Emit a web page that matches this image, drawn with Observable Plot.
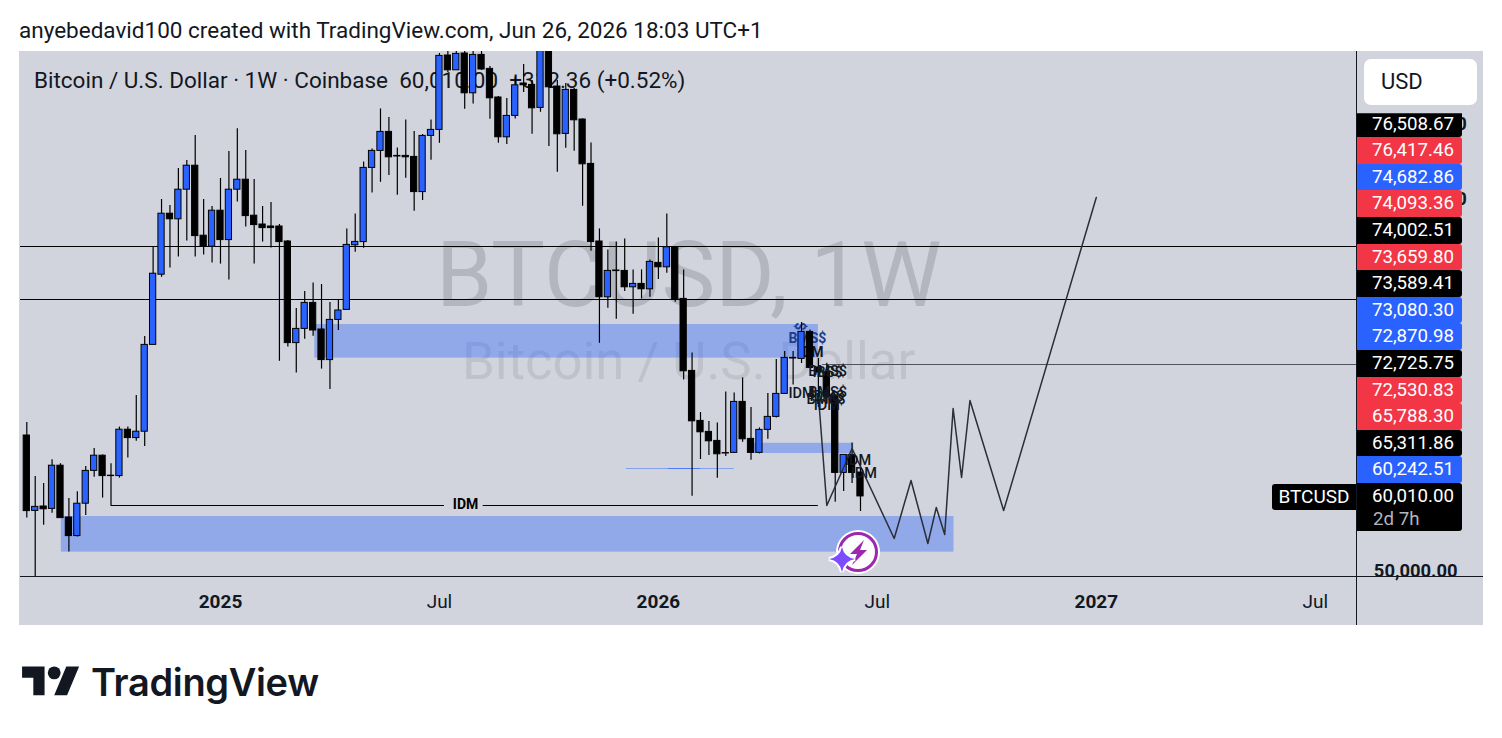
<!DOCTYPE html>
<html>
<head>
<meta charset="utf-8">
<script src="https://cdn.jsdelivr.net/npm/d3@7"></script>
<script src="https://cdn.jsdelivr.net/npm/@observablehq/plot@0.6"></script>
<style>
  html,body{margin:0;padding:0;background:#fff;width:1502px;height:738px;overflow:hidden;font-family:Roboto,sans-serif;}
  #head{position:absolute;left:19px;top:17px;font-size:22.5px;line-height:26px;color:#131722;white-space:nowrap;}
  #chart{position:absolute;left:19px;top:51px;}
  #usd{position:absolute;left:1364px;top:59px;width:113px;height:46px;background:#fff;border-radius:7px;font-size:22px;line-height:46px;color:#131722;text-indent:17px;}
  #flags{position:absolute;left:1357px;top:110.7px;width:105px;display:flex;flex-direction:column;}
  .flag{height:26.6px;line-height:26.6px;font-size:18.7px;color:#fff;text-align:right;padding-right:8px;border-radius:0 3px 3px 0;box-sizing:border-box;}
  .flag:first-child{clip-path:inset(2.5px 0 0 0);}
  .flag.last{height:47.5px;line-height:24px;padding-top:1px;}
  .flag span{display:block;color:#b2b5be;text-align:left;padding-left:16px;line-height:22px;}
  #sym{position:absolute;left:1272px;top:483.5px;width:84px;height:26.6px;line-height:26.6px;background:#000;color:#fff;font-size:19px;text-align:center;border-radius:3px 0 0 3px;}
  #icon{position:absolute;left:827px;top:528px;}
  #logo{position:absolute;left:22px;top:660px;}
  #brand{position:absolute;left:91px;top:657px;font-family:Inter,Roboto,sans-serif;font-size:38px;font-weight:600;line-height:50px;letter-spacing:-0.35px;color:#131722;white-space:nowrap;}
</style>
</head>
<body>
<div id="head">anyebedavid100 created with TradingView.com, Jun 26, 2026 18:03 UTC+1</div>
<div id="chart"></div>
<div id="usd">USD</div>
<div id="flags"></div>
<div id="sym">BTCUSD</div>
<svg id="icon" width="60" height="50" viewBox="0 0 60 50">
  <circle cx="31" cy="24" r="22" fill="#fff"/>
  <circle cx="31" cy="24" r="18.5" fill="#fff" stroke="#9c27b0" stroke-width="3"/>
  <path d="M37 12 L23 26 L30 26 L25 37 L40 22 L33 22 Z" fill="#9c27b0"/>
  <path d="M15 19 Q17 29 28 31 Q17 33 15 44 Q13 33 2 31 Q13 29 15 19 Z" fill="#7c4dff" stroke="#fff" stroke-width="4" paint-order="stroke"/>
</svg>
<svg id="logo" width="58" height="45" viewBox="0 0 36 28"><path fill="#131722" d="M14 22H7V11H0V4h14v18zM28 22h-8l7.5-18h8L28 22z"/><circle fill="#131722" cx="20" cy="8" r="4"/></svg>
<div id="brand">TradingView</div>
<script>
// Weekly candles, first bar = week of 2024-07-29
const firstWeek = Date.UTC(2024, 6, 29);
const open  = [67625,58200,58750,58450,63850,57375,55050,59100,63200,65100,62600,62550,68350,67300,68100,78950,87725,95350,94650,98350,101350,92600,91225,95725,92050,98350,99600,95100,94000,93750,93750,91875,79175,80950,84200,80875,77050,82075,83325,91400,91800,101075,103200,105575,102575,102575,102450,98050,105075,105825,115125,113275,115375,110400,115200,113450,109875,104900,107575,111625,111450,108575,118000,111250,105325,110825,107125,101575,91875,84900,88250,88200,86150,86575,85900,89200,88650,91150,84700,75700,69450,68075,66950,65425,65450,71825,67200,65450,68325,69950,72825,77325,77200,80575,76125,75525,72500,62950,65200,63000];
const high  = [69250,62500,61625,64600,64100,59750,60600,63750,66000,65200,64100,68675,68675,72625,80000,91150,97125,96375,101000,102000,105125,97125,96250,99750,103125,105975,103250,99625,96250,96750,94000,92000,83500,85625,86700,86500,84250,84575,93450,95325,101825,103450,108450,107375,103575,107075,105625,105250,107075,115375,116500,117000,117000,116500,116000,113750,110000,109750,112400,114000,112000,120000,120000,112000,111625,111000,107200,104200,93450,90825,91825,92200,88325,88325,89575,92325,95325,91250,88325,77950,70500,69375,69200,73075,72950,74825,71125,68575,72875,77125,78125,78125,81750,80825,77250,76650,72625,65250,66700,64500];
const low   = [57300,49900,56400,57900,57300,53050,54925,57625,62400,59800,58875,62300,64800,66900,66250,78950,87400,88550,89925,91925,89925,90175,89175,89050,87050,96800,93675,89050,91800,91050,76900,78675,75425,79650,80025,75925,73375,80750,83325,90525,91025,97925,99275,100125,97650,99775,95650,97000,102025,104150,113000,113250,108400,109075,113250,107150,104150,104000,107200,110500,105275,108025,103750,100525,103525,103150,96275,90650,79150,83525,82150,85625,82775,84700,84900,87125,87900,84275,74575,60025,64625,65125,62275,65000,65425,66775,64525,65325,67150,69825,72750,73950,76625,76075,71125,71625,59275,60625,61625,58125];
const close = [58175,58700,58400,63850,57300,55050,59100,63200,65100,62550,62550,68350,67300,68100,78950,87850,95350,94650,98350,101350,92550,91225,95725,92050,98350,99600,95050,93925,93550,93550,91800,79175,80950,84200,80750,77050,82075,83250,91450,91825,101075,103200,105575,102400,102500,102400,98050,105075,105825,115075,113275,115325,110400,115200,113375,109775,104900,107575,111400,111400,108525,118000,111150,105275,110825,107025,101525,91800,84900,88200,88175,86150,86575,85900,89325,88650,91150,84575,75650,69400,68025,66900,65275,65375,71825,67150,65450,68325,69950,72825,77325,77250,80575,76075,75500,72400,62950,65200,62950,60010];

// Drawn zones [first week, last week, lower price, upper price]
const zoneStart = [4.1, 34.2, 86.2];
const zoneEnd   = [110.1, 94, 98.2];
const zoneLow   = [53050, 77300, 65375];
const zoneHigh  = [57500, 81500, 66650];

// Horizontal levels and the projected path
const levels = [91250, 84625];
const grayLevel = 76500;
const idmLevel = 58875;
const thinLevel = 63500;
const pathWeek  = [94, 95, 98, 103, 105, 107, 108, 109, 110, 111, 112, 116, 127];
const pathPrice = [72625, 58875, 66000, 54750, 62000, 54125, 58625, 55250, 71000, 62375, 72000, 58250, 97375];

// Chart labels
const notes = ["BMS$", "IDM", "BMS$", "IBS$", "IDM", "BMS$", "IDM$", "BMS$", "IDM", "IDM", "IDM"];
const noteWeek  = [92.7, 93.1, 95.1, 95.1, 92, 95.1, 95, 94.9, 95, 98.7, 99.4];
const notePrice = [79750, 78000, 75625, 75500, 72875, 73000, 72500, 72100, 71400, 64500, 62875];
const noteColor = ["#1b3f8f", "#131722", "#131722", "#131722", "#131722", "#131722", "#131722", "#131722", "#131722", "#131722", "#131722"];

// Price-scale flags
const flagText = ["76,508.67","76,417.46","74,682.86","74,093.36","74,002.51","73,659.80","73,589.41","73,080.30","72,870.98","72,725.75","72,530.83","65,788.30","65,311.86","60,242.51","60,010.00"];
const flagColor = ["#000","#f23645","#2962ff","#f23645","#000","#f23645","#000","#2962ff","#2962ff","#000","#f23645","#f23645","#000","#2962ff","#000"];
const countdown = "2d 7h";
const priceTicks = ["110,000.00", "100,000.00", "50,000.00"];
const priceTickAt = [105800, 96500, 49950];
const priceTickWeek = [171, 171, 169.9];
const tickYears = ["2025-01-06", "2026-01-05", "2027-01-04"];
const tickMonths = ["2025-07-07", "2026-07-06", "2027-07-05"];

const legend = "Bitcoin / U.S. Dollar · 1W · Coinbase\u00a0\u00a060,010.00\u00a0\u00a0+312.36 (+0.52%)";
const watermark = "BTCUSD, 1W";
const watermarkSub = "Bitcoin / U.S. Dollar";

const BLUE = "#2962ff", INK = "#131722";
const weekDate = w => new Date(firstWeek + w * 7 * 864e5);
const candles = open.map((o, i) => ({date: weekDate(i), o, h: high[i], l: low[i], c: close[i]}));
const zones = zoneStart.map((s, i) => ({a: weekDate(s), b: weekDate(zoneEnd[i]), lo: zoneLow[i], hi: zoneHigh[i]}));
const path = pathWeek.map((w, i) => ({d: weekDate(w), p: pathPrice[i]}));
const noteRows = notes.map((t, i) => ({t, d: weekDate(noteWeek[i]), p: notePrice[i], col: noteColor[i]}));
const axisEnd = weekDate(157.9);
const tickRows = priceTicks.map((t, i) => ({t, p: priceTickAt[i], d: weekDate(priceTickWeek[i])}));
const parseDates = a => a.map(s => new Date(s + "T00:00Z"));

const chart = Plot.plot({
  width: 1464, height: 574,
  marginTop: 1, marginBottom: 49, marginLeft: 1, marginRight: 0,
  style: {background: "#d1d4dc", fontFamily: "Roboto, sans-serif", fontSize: "17px", color: INK, display: "block"},
  x: {type: "utc", domain: [weekDate(-0.748), axisEnd], range: [1, 1337], axis: null},
  y: {type: "linear", domain: [50000, 115500], axis: null},
  marks: [
    Plot.text([watermark], {x: weekDate(78.6), y: 87375, text: d => d, fontSize: 90.5, fill: "#b3b6bf", textAnchor: "middle"}),
    Plot.text([watermarkSub], {x: weekDate(78.6), y: 76750, text: d => d, fontSize: 52.7, fill: "#bfc2cb", textAnchor: "middle"}),
    Plot.text([legend], {x: weekDate(0.85), y: 112000, text: d => d, fontSize: 22.5, fill: INK, textAnchor: "start"}),
    Plot.rect(zones, {x1: "a", x2: "b", y1: "lo", y2: "hi", fill: BLUE, fillOpacity: 0.38}),
    Plot.ruleY(levels, {x1: weekDate(-0.748), x2: axisEnd, stroke: "#000", strokeWidth: 1}),
    Plot.ruleY([grayLevel], {x1: weekDate(94.5), x2: axisEnd, stroke: "#50535e", strokeWidth: 1}),
    Plot.ruleY([idmLevel], {x1: weekDate(10), x2: weekDate(49.6), stroke: "#000", strokeWidth: 1}),
    Plot.ruleY([idmLevel], {x1: weekDate(54.2), x2: weekDate(94), stroke: "#000", strokeWidth: 1}),
    Plot.text(["IDM"], {x: weekDate(52.1), y: idmLevel + 100, text: d => d, fontSize: 14, fontWeight: 700, fill: "#000"}),
    Plot.ruleY([thinLevel], {x1: weekDate(71.2), x2: weekDate(84), stroke: BLUE, strokeOpacity: 0.45, strokeWidth: 1}),
    Plot.ruleY([thinLevel], {x1: weekDate(76.2), x2: weekDate(80), stroke: BLUE, strokeOpacity: 0.6, strokeWidth: 1}),
    Plot.text(["$"], {x: weekDate(92), y: 81250, text: d => d, rotate: -90, fontSize: 14, fontWeight: 700, fill: "#1b3f8f"}),
    Plot.text(noteRows.slice(0, 2), {x: "d", y: "p", text: "t", fill: "col", fontSize: 14, fontWeight: 700}),
    Plot.ruleX(candles, {x: "date", y1: "l", y2: "h", stroke: "#000", strokeWidth: 1.2}),
    Plot.rect(candles, {
      x1: d => new Date(+d.date - 2.6 * 864e5),
      x2: d => new Date(+d.date + 2.6 * 864e5),
      y1: "o", y2: "c",
      fill: d => d.c > d.o ? BLUE : "#000",
      stroke: "#000", strokeWidth: 1
    }),
    Plot.line(path, {x: "d", y: "p", stroke: "#2a2e39", strokeWidth: 1.5, curve: "linear"}),
    Plot.text(noteRows.slice(2), {x: "d", y: "p", text: "t", fill: "col", fontSize: 14.5, fontWeight: 500}),
    Plot.ruleY([50000], {stroke: INK, strokeWidth: 1}),
    Plot.ruleX([axisEnd], {y1: 115700, y2: 43875, stroke: INK, strokeWidth: 1}),
    Plot.text(tickRows, {x: "d", y: "p", text: "t", fontSize: 18.4, fontWeight: 700, fill: INK, textAnchor: "end", lineAnchor: "bottom"}),
    Plot.axisX({ticks: parseDates(tickYears), tickFormat: d3.utcFormat("%Y"), tickSize: 0, tickPadding: 18, fontSize: 19, fontWeight: 700, label: null, fill: INK}),
    Plot.axisX({ticks: parseDates(tickMonths), tickFormat: d3.utcFormat("%b"), tickSize: 0, tickPadding: 18, fontSize: 19, label: null, fill: INK})
  ]
});
document.getElementById("chart").appendChild(chart);

const flags = document.getElementById("flags");
flagText.forEach((t, i) => {
  const f = document.createElement("div");
  f.className = "flag" + (i === flagText.length - 1 ? " last" : "");
  f.style.background = flagColor[i];
  f.textContent = t;
  if (i === flagText.length - 1) {
    const s = document.createElement("span");
    s.textContent = countdown;
    f.appendChild(s);
  }
  flags.appendChild(f);
});
</script>
</body>
</html>
